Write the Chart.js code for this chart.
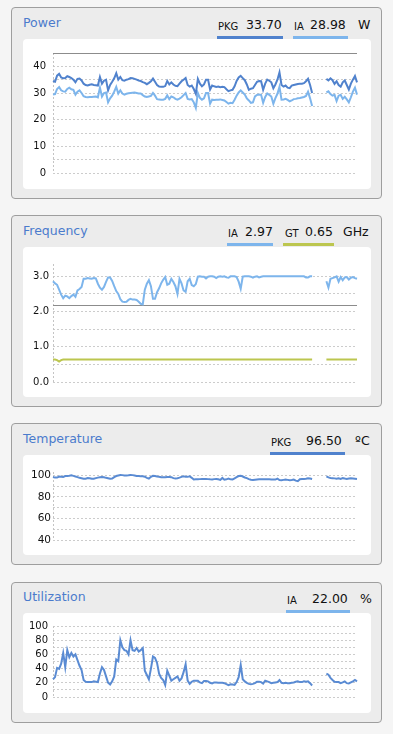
<!DOCTYPE html>
<html>
<head>
<meta charset="utf-8">
<script src="https://cdn.jsdelivr.net/npm/chart.js@4.4.1/dist/chart.umd.min.js"></script>
<style>
  body { margin: 0; width: 393px; height: 734px; background: #f5f5f5; position: relative; overflow: hidden;
         font-family: "DejaVu Sans", sans-serif; }
  .panel { position: absolute; left: 11px; width: 369px; background: #ececec; border: 1px solid #9e9e9e; border-radius: 4px; }
  .plot { position: absolute; left: 23px; width: 348px; background: #fff; border-radius: 4px; }
  .plot canvas { display: block; }
  .t { position: absolute; white-space: nowrap; }
  .title { font-size: 12.5px; line-height: 12.5px; color: #4b7bcc; }
  .lab { font-size: 10px; line-height: 10px; color: #111; }
  .val { font-size: 12.5px; line-height: 12.5px; color: #111; }
  .bar { position: absolute; height: 3px; }
</style>
</head>
<body>

<!-- Power -->
<div class="panel" style="top:7px;height:190px"></div>
<span class="t title" style="left:23px;top:17.4px">Power</span>
<span class="t lab" style="left:218px;top:21.5px">PKG</span>
<span class="t val" style="left:246px;top:19.4px">33.70</span>
<div class="bar" style="left:217px;width:66px;top:36px;background:#5082cd"></div>
<span class="t lab" style="left:294px;top:21.5px">IA</span>
<span class="t val" style="left:310px;top:19.4px">28.98</span>
<div class="bar" style="left:293px;width:55px;top:36px;background:#7db5ec"></div>
<span class="t val" style="left:358px;top:19.4px">W</span>
<div class="plot" style="top:39px;height:150px"><canvas id="powerChart" width="348" height="150"></canvas></div>

<!-- Frequency -->
<div class="panel" style="top:215px;height:190px"></div>
<span class="t title" style="left:23px;top:225.1px">Frequency</span>
<span class="t lab" style="left:228px;top:228.5px">IA</span>
<span class="t val" style="left:245px;top:226.4px">2.97</span>
<div class="bar" style="left:227px;width:46px;top:243px;background:#7db5ec"></div>
<span class="t lab" style="left:285px;top:228.5px">GT</span>
<span class="t val" style="left:305px;top:226.4px">0.65</span>
<div class="bar" style="left:283px;width:51px;top:243px;background:#bcc64f"></div>
<span class="t val" style="left:343px;top:226.4px">GHz</span>
<div class="plot" style="top:247px;height:150px"><canvas id="freqChart" width="348" height="150"></canvas></div>

<!-- Temperature -->
<div class="panel" style="top:423px;height:140px"></div>
<span class="t title" style="left:23px;top:433.4px">Temperature</span>
<span class="t lab" style="left:271px;top:437.5px">PKG</span>
<span class="t val" style="left:306px;top:435.4px">96.50</span>
<div class="bar" style="left:270px;width:75px;top:452px;background:#5082cd"></div>
<span class="t val" style="left:355px;top:435.4px">ºC</span>
<div class="plot" style="top:455px;height:100px"><canvas id="tempChart" width="348" height="100"></canvas></div>

<!-- Utilization -->
<div class="panel" style="top:582px;height:139px"></div>
<span class="t title" style="left:23px;top:591.4px">Utilization</span>
<span class="t lab" style="left:287px;top:595.5px">IA</span>
<span class="t val" style="left:312px;top:593.4px">22.00</span>
<div class="bar" style="left:286px;width:64px;top:610px;background:#7db5ec"></div>
<span class="t val" style="left:360px;top:593.4px">%</span>
<div class="plot" style="top:613px;height:100px"><canvas id="utilChart" width="348" height="100"></canvas></div>

<script>
// valores, um por amostra (null = sem leitura)
const POWER_PKG = [
  34.5, 34.2, 36.5, 37.2, 35.8, 35.5, 35.6, 36.3, 36.0, 35.6,
  35.0, 34.0, 35.3, 35.4, 34.7, 33.5, 33.0, 32.8, 33.1, 33.3,
  33.0, 32.9, 32.8, 36.0, 33.5, 34.6, 35.0, 31.0, 33.0, 34.2,
  35.5, 37.4, 35.0, 36.0, 34.8, 34.6, 35.0, 35.2, 35.6, 35.5,
  35.3, 35.0, 34.7, 34.5, 34.1, 33.8, 33.3, 33.8, 34.4, 35.4,
  34.2, 33.0, 32.4, 32.3, 32.3, 32.6, 34.5, 33.2, 34.0, 33.2,
  32.7, 32.6, 33.5, 34.4, 35.0, 35.6, 33.0, 32.4, 32.8, 31.5,
  29.7, 35.3, 33.5, 32.5, 33.2, 35.0, 35.0, 31.3, 32.8, 32.5,
  32.3, 32.4, 32.2, 32.3, 32.2, 31.4, 30.7, 31.0, 31.2, 32.5,
  34.5, 35.8, 36.4, 35.6, 34.8, 33.2, 31.2, 31.6, 31.8, 33.0,
  34.2, 34.5, 34.4, 31.2, 33.5, 35.0, 34.6, 34.0, 31.8, 33.2,
  35.0, 37.7, 33.0, 32.4, 32.8, 32.0, 31.8, 32.8, 33.0, 33.2,
  33.4, 33.5, 33.5, 33.7, 34.4, 35.3, 33.0, 30.0, null, null,
  null, null, null, null, 35.3, 34.7, 35.5, 34.8, 33.4, 34.4,
  33.0, 32.4, 34.0, 34.7, 33.0, 31.3, 33.5, 35.0, 36.4, 34.0
];
const POWER_IA = [
  29.4, 29.6, 31.5, 32.2, 31.0, 30.6, 30.5, 31.5, 32.0, 31.4,
  31.2, 29.4, 30.5, 31.0, 30.0, 28.8, 28.5, 28.4, 28.5, 28.5,
  28.6, 28.7, 28.4, 32.0, 28.7, 30.0, 30.2, 26.5, 28.0, 29.0,
  30.5, 32.3, 29.8, 31.0, 29.8, 29.4, 29.7, 29.9, 30.0, 30.1,
  30.2, 30.0, 29.8, 29.8, 29.2, 28.7, 28.5, 28.7, 28.9, 30.0,
  29.0, 27.7, 27.6, 27.5, 27.5, 27.8, 29.1, 27.7, 28.7, 28.4,
  27.8, 27.5, 27.9, 28.4, 29.2, 30.0, 27.8, 27.6, 27.7, 26.5,
  24.4, 30.0, 28.2, 27.5, 28.0, 30.0, 30.0, 26.0, 27.5, 27.4,
  27.5, 27.5, 27.6, 27.4, 27.2, 26.6, 26.0, 26.3, 26.2, 27.5,
  29.0, 30.2, 31.0, 30.2, 29.4, 28.0, 27.2, 26.3, 26.5, 28.7,
  29.3, 29.4, 29.3, 26.3, 28.5, 29.8, 29.3, 28.7, 26.0, 28.1,
  29.7, 32.3, 27.5, 27.6, 27.8, 27.4, 26.9, 27.2, 27.7, 27.8,
  28.0, 28.1, 28.3, 28.5, 28.9, 30.5, 28.0, 25.1, null, null,
  null, null, null, null, 30.2, 30.6, 29.6, 29.0, 29.3, 27.0,
  29.0, 29.3, 27.8, 28.6, 27.6, 26.5, 28.4, 30.5, 32.0, 29.4
];
const FREQ_IA = [
  2.86, 2.80, 2.76, 2.62, 2.48, 2.38, 2.45, 2.43, 2.38, 2.44,
  2.48, 2.42, 2.60, 2.64, 2.70, 2.93, 2.93, 2.95, 2.94, 2.93,
  2.95, 2.94, 2.79, 2.68, 2.62, 2.70, 2.84, 2.97, 2.97, 2.87,
  2.72, 2.58, 2.50, 2.35, 2.28, 2.27, 2.28, 2.33, 2.36, 2.34,
  2.34, 2.33, 2.28, 2.22, 2.20, 2.62, 2.79, 2.89, 2.72, 2.36,
  2.36, 2.55, 2.66, 2.80, 2.90, 2.98, 2.76, 2.79, 2.93, 2.84,
  2.72, 2.50, 2.93, 2.80, 2.60, 2.56, 2.86, 2.93, 2.75, 2.72,
  2.78, 2.99, 3.00, 2.99, 2.99, 2.94, 2.99, 3.00, 3.00, 2.99,
  2.95, 2.99, 3.00, 2.99, 3.00, 2.97, 2.96, 3.00, 3.00, 3.00,
  2.98, 2.85, 2.65, 2.99, 3.00, 3.00, 3.00, 2.99, 2.96, 2.99,
  3.00, 2.97, 2.99, 3.00, 3.00, 3.00, 3.00, 3.00, 3.00, 3.00,
  3.00, 3.00, 3.00, 3.00, 3.00, 3.00, 3.00, 3.00, 3.00, 3.00,
  3.00, 3.00, 3.00, 3.00, 2.97, 2.97, 3.00, 3.00, null, null,
  null, null, null, null, 2.86, 2.68, 2.93, 2.95, 2.97, 3.00,
  2.85, 2.98, 2.89, 2.97, 2.98, 2.91, 2.96, 2.98, 2.95, 2.93
];
const FREQ_GT = [
  0.64, 0.64, 0.62, 0.58, 0.62, 0.64, 0.64, 0.64, 0.64, 0.64,
  0.64, 0.64, 0.64, 0.64, 0.64, 0.64, 0.64, 0.64, 0.64, 0.64,
  0.64, 0.64, 0.64, 0.64, 0.64, 0.64, 0.64, 0.64, 0.64, 0.64,
  0.64, 0.64, 0.64, 0.64, 0.64, 0.64, 0.64, 0.64, 0.64, 0.64,
  0.64, 0.64, 0.64, 0.64, 0.64, 0.64, 0.64, 0.64, 0.64, 0.64,
  0.64, 0.64, 0.64, 0.64, 0.64, 0.64, 0.64, 0.64, 0.64, 0.64,
  0.64, 0.64, 0.64, 0.64, 0.64, 0.64, 0.64, 0.64, 0.64, 0.64,
  0.64, 0.64, 0.64, 0.64, 0.64, 0.64, 0.64, 0.64, 0.64, 0.64,
  0.64, 0.64, 0.64, 0.64, 0.64, 0.64, 0.64, 0.64, 0.64, 0.64,
  0.64, 0.64, 0.64, 0.64, 0.64, 0.64, 0.64, 0.64, 0.64, 0.64,
  0.64, 0.64, 0.64, 0.64, 0.64, 0.64, 0.64, 0.64, 0.64, 0.64,
  0.64, 0.64, 0.64, 0.64, 0.64, 0.64, 0.64, 0.64, 0.64, 0.64,
  0.64, 0.64, 0.64, 0.64, 0.64, 0.64, 0.64, 0.64, null, null,
  null, null, null, null, 0.64, 0.64, 0.64, 0.64, 0.64, 0.64,
  0.64, 0.64, 0.64, 0.64, 0.64, 0.64, 0.64, 0.64, 0.64, 0.64
];
const TEMP_PKG = [
  98.4, 97.8, 97.8, 98.8, 98.6, 98.4, 99.2, 99.4, 99.6, 100.0,
  99.4, 98.9, 98.3, 97.6, 97.2, 96.7, 96.8, 97.4, 97.2, 96.7,
  96.7, 97.3, 97.8, 98.1, 98.4, 98.2, 97.6, 97.2, 96.7, 96.9,
  98.3, 99.3, 99.8, 100.3, 100.1, 99.7, 99.7, 99.9, 100.3, 100.1,
  99.8, 99.4, 99.3, 99.1, 99.0, 98.6, 97.5, 96.9, 98.5, 99.4,
  99.2, 98.9, 98.5, 98.2, 98.1, 98.1, 98.3, 98.4, 98.2, 97.3,
  96.9, 97.3, 97.8, 98.5, 99.0, 98.5, 98.5, 99.0, 97.6, 96.0,
  96.2, 96.3, 96.4, 96.5, 96.6, 96.6, 96.4, 96.2, 96.1, 96.4,
  96.6, 96.2, 95.7, 97.5, 95.8, 96.2, 96.9, 96.2, 96.1, 97.1,
  98.3, 99.3, 99.6, 98.8, 97.9, 97.3, 96.4, 95.9, 95.7, 95.9,
  96.1, 96.3, 96.3, 96.3, 96.3, 96.3, 96.2, 96.1, 96.0, 96.0,
  96.8, 95.6, 95.4, 95.7, 96.0, 95.7, 95.3, 95.6, 96.0, 95.0,
  94.5, 96.3, 96.6, 96.6, 96.7, 97.1, 96.9, 96.5, null, null,
  null, null, null, null, 99.0, 98.0, 97.5, 97.3, 97.1, 96.7,
  97.2, 96.6, 97.3, 96.9, 96.6, 97.0, 97.2, 97.0, 96.8, 96.6
];
const UTIL_IA = [
  25, 28, 41, 39.5, 47, 62, 42, 66, 56, 62,
  57, 60, 52, 44, 38, 24, 21.5, 21, 21, 21,
  22, 21.5, 21, 33, 42, 38, 29, 20, 17.5, 22,
  29, 53, 50.5, 80, 70, 66, 65, 60, 80, 66,
  65, 69, 64, 66, 69, 37, 31, 25, 40, 57,
  55, 48, 33, 27, 24, 17, 37, 30, 23, 25,
  27, 29, 23, 26, 35, 46, 23, 18.6, 21.5, 23,
  23, 23, 20.5, 19.5, 22.5, 22.5, 22, 20, 19, 20.5,
  20.5, 20, 20, 20, 19.5, 18, 16.7, 18, 17.5, 17,
  21, 28, 45, 25, 22, 20, 18.5, 18, 18.5, 19.5,
  21.5, 21.5, 21, 19, 23, 22, 21, 19.5, 20, 20.5,
  21, 24, 20, 19.5, 20, 19.5, 19.5, 20, 20.5, 21.5,
  22, 21, 21, 22, 21.5, 22, 19.5, 16.2, null, null,
  null, null, null, null, 33, 31.4, 27, 24, 21.5, 21,
  21, 19.5, 20.5, 22, 19.5, 19, 20.5, 22, 24, 22
];

// rótulos dos eixos y
const POWER_TICKS = [0, 10, 20, 30, 40];
const FREQ_TICKS = [0, 1, 2, 3];
const TEMP_TICKS = [40, 60, 80, 100];
const UTIL_TICKS = [0, 20, 40, 60, 80, 100];

// linhas de referência (TDP e frequência base)
const POWER_REF = 45;
const FREQ_REF = 2.2;

const timeLabels = POWER_PKG.map((_, i) => i);

const DARK_BLUE = '#5082cd';
const LIGHT_BLUE = '#7db5ec';
const GREEN = '#bcc64f';

// desenha o eixo vertical pontilhado e a linha de referência
const refLinePlugin = {
  id: 'refLine',
  beforeDatasetsDraw(chart, args, opts) {
    const ctx = chart.ctx;
    const area = chart.chartArea;
    ctx.save();
    ctx.strokeStyle = '#c4c4c4';
    ctx.lineWidth = 1;
    ctx.setLineDash([2, 2]);
    const x = Math.round(area.left) + 0.5;
    ctx.beginPath();
    ctx.moveTo(x, area.top);
    ctx.lineTo(x, area.bottom);
    ctx.stroke();
    if (opts.value != null) {
      const y = Math.round(chart.scales.y.getPixelForValue(opts.value)) + 0.5;
      ctx.setLineDash([]);
      ctx.strokeStyle = '#8c8c8c';
      ctx.beginPath();
      ctx.moveTo(area.left, y);
      ctx.lineTo(area.right, y);
      ctx.stroke();
    }
    ctx.restore();
  }
};

function serie(data, color) {
  return {
    data: data,
    borderColor: color,
    borderWidth: 2,
    pointRadius: 0,
    tension: 0,
    spanGaps: false,
    fill: false
  };
}

function criarGrafico(id, datasets, y, pad, refValue) {
  const ctx = document.getElementById(id).getContext('2d');
  return new Chart(ctx, {
    type: 'line',
    data: { labels: timeLabels, datasets: datasets },
    plugins: [refLinePlugin],
    options: {
      responsive: false,
      animation: false,
      devicePixelRatio: 1,
      layout: { padding: { left: 0, right: 14, top: pad.top, bottom: pad.bottom } },
      plugins: {
        legend: { display: false },
        tooltip: { enabled: false },
        refLine: { value: refValue }
      },
      scales: {
        x: { display: false, offset: false },
        y: {
          min: y.min,
          max: y.max,
          afterBuildTicks: (scale) => {
            scale.ticks = scale.ticks.filter(t => Math.abs(t.value / y.step - Math.round(t.value / y.step)) < 1e-6);
          },
          afterFit: (scale) => { scale.width = 30; },
          ticks: {
            stepSize: y.step,
            includeBounds: false,
            autoSkip: false,
            padding: y.padding,
            color: '#111',
            font: { family: 'DejaVu Sans', size: y.fontSize },
            callback: (v) => {
              const ok = y.labels.some(l => Math.abs(l - v) < 1e-6);
              return ok ? (y.decimals ? Number(v).toFixed(y.decimals) : String(v)) : '';
            }
          },
          grid: { color: '#cccccc', lineWidth: 1, drawTicks: false },
          border: { display: false, dash: [2, 2] }
        }
      }
    }
  });
}

criarGrafico('powerChart',
  [serie(POWER_PKG, DARK_BLUE), serie(POWER_IA, LIGHT_BLUE)],
  { min: 0, max: 45, step: 5, labels: POWER_TICKS, padding: 7, fontSize: 10 },
  { top: 14, bottom: 16 }, POWER_REF);

criarGrafico('freqChart',
  [serie(FREQ_IA, LIGHT_BLUE), serie(FREQ_GT, GREEN)],
  { min: 0, max: 3.35, step: 0.5, labels: FREQ_TICKS, decimals: 1, padding: 4, fontSize: 10 },
  { top: 17, bottom: 15 }, FREQ_REF);

criarGrafico('tempChart',
  [serie(TEMP_PKG, '#5a8bd3')],
  { min: 40, max: 103, step: 10, labels: TEMP_TICKS, padding: 2, fontSize: 10.5 },
  { top: 17, bottom: 15 }, null);

criarGrafico('utilChart',
  [serie(UTIL_IA, '#5a8bd3')],
  { min: 0, max: 100, step: 10, labels: UTIL_TICKS, padding: 5, fontSize: 10 },
  { top: 13, bottom: 16 }, null);
</script>
</body>
</html>
